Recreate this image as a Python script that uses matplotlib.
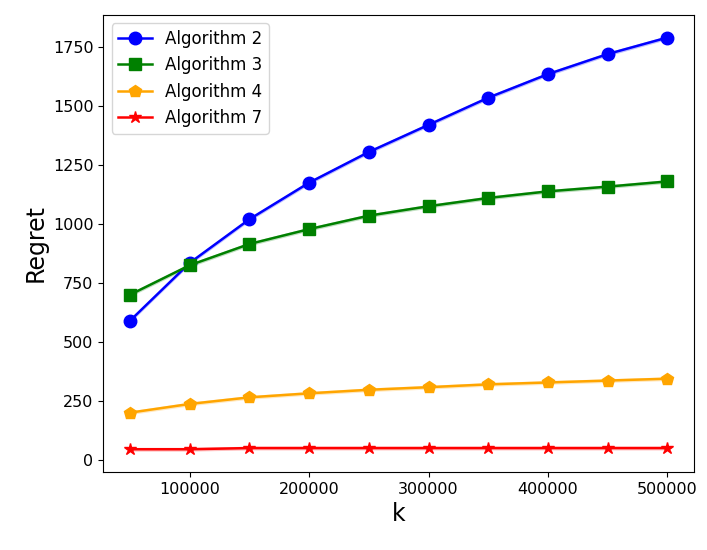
import numpy as np
import matplotlib
matplotlib.use('Agg')
import matplotlib.pyplot as plt

# data
k = [50000, 100000, 150000, 200000, 250000, 300000, 350000, 400000, 450000, 500000]
alg2 = [590, 835, 1020, 1175, 1305, 1420, 1535, 1635, 1720, 1790]
alg3 = [700, 825, 915, 978, 1035, 1075, 1110, 1138, 1158, 1180]
alg4 = [200, 237, 265, 282, 297, 308, 320, 328, 336, 344]
alg7 = [45, 45, 50, 50, 50, 50, 50, 50, 50, 50]

series = [
    ('Algorithm 2', alg2, 'blue', 'o'),
    ('Algorithm 3', alg3, 'green', 's'),
    ('Algorithm 4', alg4, 'orange', 'p'),
    ('Algorithm 7', alg7, 'red', '*'),
]

fig = plt.figure(figsize=(7.07, 5.5), dpi=100)
ax = fig.add_axes([0.146, 0.142, 0.836, 0.831])

for name, vals, col, mk in series:
    y = np.array(vals, dtype=float)
    ax.plot(k, y, color=col, marker=mk, markersize=9, linewidth=1.8, label=name)
    ax.fill_between(k, y - 8, y + 8, color=col, alpha=0.25, linewidth=0)

ax.set_xticks([100000, 200000, 300000, 400000, 500000])
ax.set_yticks([0, 250, 500, 750, 1000, 1250, 1500, 1750])
ax.tick_params(labelsize=11.5)
ax.set_xlabel('k', fontsize=17)
ax.set_ylabel('Regret', fontsize=17)
ax.legend(loc='upper left', fontsize=12)

fig.savefig('out.png', dpi=100)
